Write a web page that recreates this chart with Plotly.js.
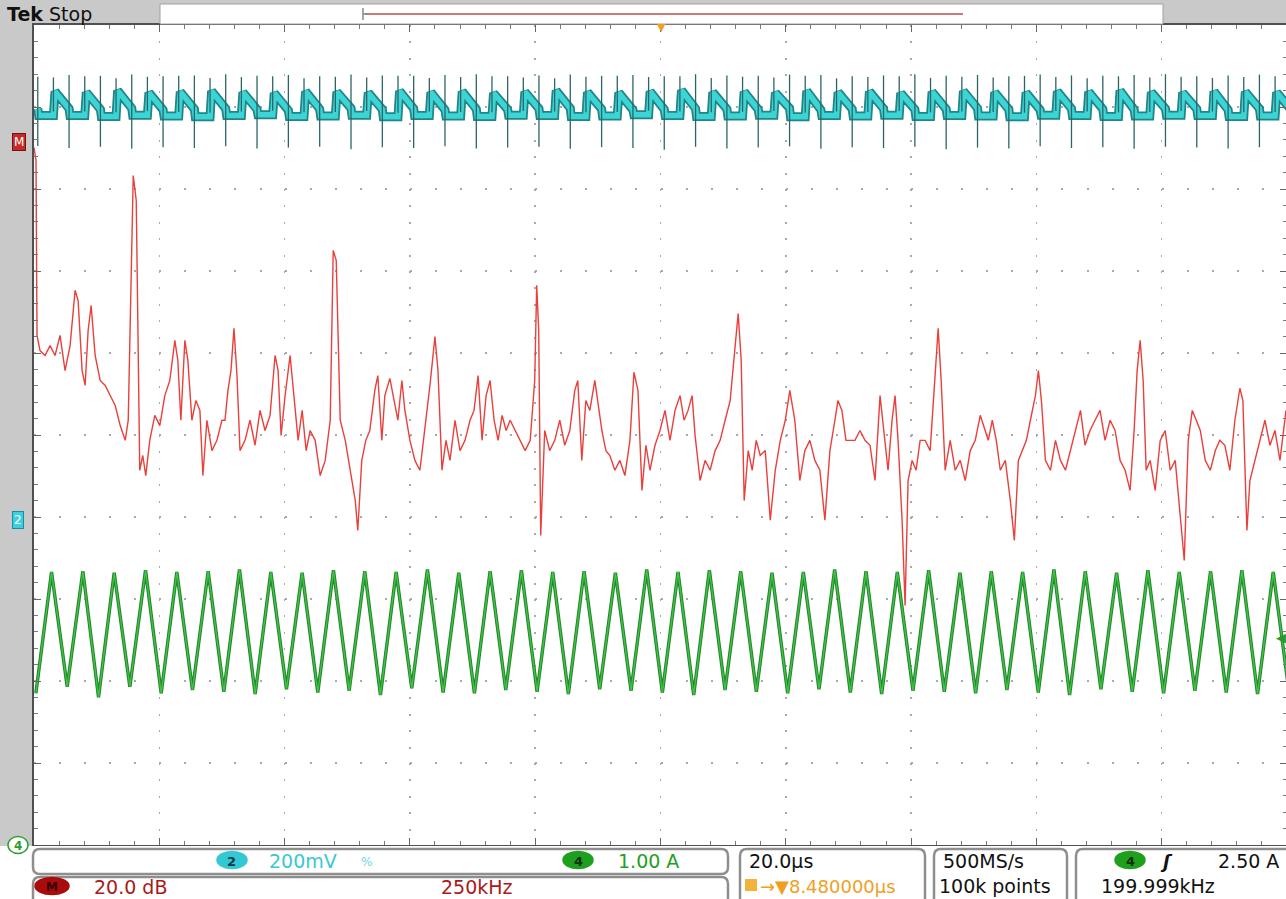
<!DOCTYPE html>
<html><head><meta charset="utf-8">
<script src="https://cdn.plot.ly/plotly-3.0.1.min.js"></script>
<style>html,body{margin:0;padding:0;overflow:hidden;background:#fff}#plot{width:1290px;height:899px}</style>
</head><body><div id="plot"></div>
<script>
// ---------- Channel 2 (voltage ripple, V) : per-switching-period readings ----------
const cyanRiseT = [-96.9,-91.9,-86.9,-81.9,-76.9,-71.9,-66.9,-61.9,-56.9,-51.9,-46.9,-41.9,-36.9,-31.9,-26.9,-21.9,-16.9,-11.9,-6.9,-1.9,3.1,8.1,13.1,18.1,23.1,28.1,33.1,38.1,43.1,48.1,53.1,58.1,63.1,68.1,73.1,78.1,83.1,88.1,93.1,98.1];
const cyanDropT = [-99.4,-94.4,-89.4,-84.4,-79.4,-74.4,-69.4,-64.4,-59.4,-54.4,-49.4,-44.4,-39.4,-34.4,-29.4,-24.4,-19.4,-14.4,-9.4,-4.4,0.6,5.6,10.6,15.6,20.6,25.6,30.6,35.6,40.6,45.6,50.6,55.6,60.6,65.6,70.6,75.6,80.6,85.6,90.6,95.6,100.6];
const cyanPeakV = [1.038,1.036,1.040,1.035,1.037,1.039,1.036,1.034,1.038,1.037,1.035,1.039,1.036,1.038,1.034,1.037,1.040,1.036,1.035,1.038,1.041,1.036,1.037,1.035,1.039,1.036,1.038,1.034,1.037,1.039,1.036,1.035,1.038,1.037,1.040,1.036,1.035,1.038,1.037,1.036];
const cyanMidV = [0.996,0.996,0.994,0.997,0.993,0.995,0.996,0.994,0.992,0.995,0.997,0.994,0.996,0.993,0.995,0.994,0.996,0.997,0.995,0.993,0.994,0.996,0.995,0.994,0.997,0.993,0.995,0.996,0.994,0.995,0.997,0.994,0.993,0.996,0.995,0.994,0.996,0.995,0.993,0.996,0.994];
const cyanLowV = [0.979,0.979,0.977,0.980,0.978,0.976,0.979,0.981,0.977,0.978,0.980,0.976,0.979,0.978,0.977,0.980,0.979,0.977,0.978,0.981,0.979,0.977,0.978,0.980,0.976,0.979,0.978,0.980,0.977,0.979,0.978,0.976,0.980,0.979,0.977,0.978,0.980,0.979,0.977,0.978,0.979];
const riseSpikeHi = [1.072,1.075,1.070,1.074,1.076,1.071,1.073,1.075,1.070,1.074,1.072,1.076,1.071,1.073,1.075,1.072,1.070,1.074,1.076,1.073,1.075,1.071,1.074,1.072,1.076,1.070,1.073,1.075,1.071,1.074,1.072,1.076,1.073,1.070,1.075,1.072,1.074,1.071,1.073,1.075];
const dropSpikeHi = [1.074,1.078,1.076,1.079,1.075,1.077,1.080,1.076,1.078,1.075,1.079,1.077,1.076,1.078,1.080,1.075,1.077,1.079,1.076,1.078,1.075,1.080,1.077,1.076,1.079,1.078,1.075,1.077,1.080,1.076,1.078,1.075,1.079,1.077,1.076,1.078,1.080,1.075,1.077,1.079,1.076];
const dropSpikeLo = [0.905,0.900,0.903,0.898,0.902,0.900,0.904,0.899,0.901,0.903,0.897,0.902,0.900,0.904,0.899,0.901,0.903,0.898,0.902,0.900,0.896,0.903,0.899,0.901,0.904,0.898,0.902,0.900,0.903,0.897,0.901,0.899,0.904,0.900,0.902,0.898,0.903,0.901,0.899,0.902,0.900];

// ---------- Channel 4 (inductor current, A) : triangle vertices ----------
const greenTroughT = [-99.7,-94.7,-89.7,-84.7,-79.7,-74.7,-69.7,-64.7,-59.7,-54.7,-49.7,-44.7,-39.7,-34.7,-29.7,-24.7,-19.7,-14.7,-9.7,-4.7,0.3,5.3,10.3,15.3,20.3,25.3,30.3,35.3,40.3,45.3,50.3,55.3,60.3,65.3,70.3,75.3,80.3,85.3,90.3,95.3,100.3];
const greenTroughI = [1.85,1.93,1.80,1.93,1.85,1.89,1.87,1.84,1.90,1.86,1.88,1.83,1.91,1.86,1.85,1.89,1.87,1.84,1.90,1.88,1.86,1.83,1.89,1.87,1.85,1.90,1.86,1.84,1.88,1.87,1.85,1.89,1.86,1.83,1.90,1.87,1.85,1.88,1.86,1.84,1.88];
const greenPeakT = [-97.2,-92.2,-87.2,-82.2,-77.2,-72.2,-67.2,-62.2,-57.2,-52.2,-47.2,-42.2,-37.2,-32.2,-27.2,-22.2,-17.2,-12.2,-7.2,-2.2,2.8,7.8,12.8,17.8,22.8,27.8,32.8,37.8,42.8,47.8,52.8,57.8,62.8,67.8,72.8,77.8,82.8,87.8,92.8,97.8];
const greenPeakI = [3.33,3.34,3.32,3.35,3.33,3.34,3.36,3.33,3.32,3.35,3.34,3.33,3.36,3.32,3.34,3.35,3.33,3.34,3.32,3.36,3.33,3.35,3.34,3.32,3.33,3.36,3.34,3.33,3.35,3.32,3.34,3.33,3.36,3.34,3.32,3.35,3.33,3.34,3.35,3.33];

// ---------- Math (FFT of ch4, dB vs kHz) ----------
const mathFreqKHz = [0,4,6,12,22,32,42,52,62,72,
 82,88,96,102,108,114,122,132,142,152,
 162,172,182,188,194,198,204,208,211,217,
 223,231,241,251,261,271,281,287,293,301,
 307,315,323,331,337,345,355,365,375,381,
 387,393,399,405,411,421,431,441,451,461,
 471,481,487,493,501,511,519,527,535,543,
 551,561,571,581,591,597,603,611,621,631,
 641,646,654,662,670,680,686,694,700,710,
 720,726,734,740,750,760,770,780,790,800,
 806,814,822,830,840,850,860,870,878,886,
 894,902,910,918,926,934,942,950,960,970,
 980,990,999,1003,1007,1011,1019,1029,1039,1049,
 1059,1069,1079,1085,1093,1101,1109,1119,1125,1133,
 1141,1149,1159,1169,1179,1189,1197,1205,1213,1221,
 1229,1239,1249,1259,1269,1279,1289,1297,1305,1313,
 1319,1329,1339,1349,1359,1369,1379,1389,1399,1405,
 1411,1417,1425,1433,1441,1449,1459,1469,1479,1489,
 1499,1508,1518,1528,1538,1548,1558,1568,1578,1588,
 1598,1604,1612,1620,1628,1638,1648,1658,1668,1678,
 1688,1696,1704,1712,1718,1724,1732,1738,1744,1752,
 1760,1768,1778,1788,1798,1804,1810,1818,1828,1838,
 1848,1858,1868,1878,1888,1898,1904,1912,1920,1928,
 1938,1948,1956,1964,1972,1980,1988,1998,2004,2010,
 2018,2028,2038,2048,2058,2068,2078,2088,2097,2107,
 2117,2127,2137,2147,2157,2167,2177,2187,2195,2201,
 2207,2213,2219,2227,2237,2247,2257,2267,2277,2287,
 2295,2303,2311,2319,2327,2337,2347,2357,2366,2376,
 2386,2396,2406,2412,2420,2426,2436,2446,2456,2466,
 2476,2486,2498];
const mathDB = [-1.5,-4.6,-47.3,-51.0,-52.2,-49.8,-52.2,-47.3,-55.9,-49.8,
 -36.3,-38.8,-55.9,-59.5,-46.1,-40.0,-52.2,-58.3,-59.5,-62.0,
 -64.4,-69.3,-72.9,-68.0,-33.9,-8.3,-14.4,-46.1,-80.2,-76.6,
 -81.5,-72.9,-66.8,-69.3,-62.0,-58.3,-48.5,-53.4,-68.0,-48.5,
 -53.4,-68.0,-63.2,-65.6,-81.5,-68.0,-75.4,-72.9,-68.0,-68.0,
 -60.7,-55.9,-45.6,-57.1,-75.4,-72.9,-68.0,-74.1,-65.6,-70.5,
 -66.8,-52.2,-55.9,-71.7,-62.0,-52.2,-63.2,-72.9,-65.6,-75.4,
 -70.5,-72.9,-81.5,-77.8,-68.0,-26.6,-29.0,-68.0,-72.9,-80.2,
 -87.6,-94.9,-77.8,-72.9,-70.5,-60.7,-57.1,-72.9,-62.0,-57.8,
 -64.4,-68.0,-58.3,-65.6,-72.9,-77.8,-80.2,-70.5,-59.5,-47.6,
 -55.9,-80.2,-72.9,-77.8,-68.0,-75.4,-72.9,-68.0,-65.6,-57.1,
 -72.9,-62.0,-58.3,-68.0,-72.9,-66.8,-70.5,-68.0,-70.5,-72.9,
 -75.4,-72.9,-58.3,-35.1,-46.1,-96.1,-70.5,-75.4,-72.9,-68.0,
 -74.1,-70.5,-60.7,-58.3,-77.8,-63.2,-65.6,-58.3,-63.2,-70.5,
 -75.4,-76.6,-80.2,-77.8,-81.5,-72.9,-56.3,-60.7,-85.1,-74.1,
 -80.2,-74.1,-70.5,-65.6,-72.9,-65.6,-62.0,-68.0,-65.6,-62.0,
 -71.7,-82.7,-77.8,-80.2,-75.4,-72.9,-68.0,-63.2,-49.8,-42.0,
 -53.4,-87.6,-75.4,-80.2,-72.9,-76.6,-75.4,-92.4,-80.2,-72.9,
 -68.0,-60.7,-68.0,-82.7,-75.4,-72.9,-77.8,-80.2,-92.4,-75.4,
 -68.0,-63.2,-65.6,-72.9,-72.9,-72.9,-70.5,-72.9,-74.1,-82.7,
 -62.0,-70.5,-80.2,-68.0,-62.0,-72.9,-92.4,-113.2,-82.7,-77.8,
 -80.2,-72.9,-72.9,-75.4,-58.3,-45.6,-58.3,-80.2,-72.9,-80.2,
 -77.8,-82.7,-75.4,-72.9,-66.8,-70.5,-72.9,-68.0,-72.9,-80.2,
 -77.8,-87.6,-97.3,-77.8,-75.4,-72.9,-68.0,-62.0,-55.9,-63.2,
 -77.8,-80.2,-72.9,-77.8,-80.2,-75.4,-70.5,-65.6,-74.1,-70.5,
 -68.0,-65.6,-72.9,-68.0,-70.5,-77.8,-80.2,-85.1,-70.5,-55.9,
 -48.5,-58.3,-80.2,-77.8,-85.1,-72.9,-70.5,-80.2,-77.8,-92.4,
 -102.2,-72.9,-65.6,-68.0,-70.5,-77.8,-80.2,-75.4,-72.9,-74.1,
 -80.2,-68.0,-60.2,-63.2,-94.9,-82.7,-77.8,-72.9,-68.0,-74.1,
 -70.5,-77.8,-65.6];

// ---------- build traces from data ----------
const cyT = [], cyV = [];
for (let j = 0; j < cyanDropT.length; j++) {
  cyT.push(cyanDropT[j]); cyV.push(cyanMidV[j]);
  cyT.push(cyanDropT[j] + 0.15); cyV.push(cyanLowV[j]);
  if (j < cyanRiseT.length) {
    cyT.push(cyanRiseT[j]); cyV.push(cyanLowV[j]);
    cyT.push(cyanRiseT[j] + 0.25); cyV.push(cyanPeakV[j]);
  }
}
const spT = [], spV = [];
cyanRiseT.forEach((t, k) => { spT.push(t, t, null); spV.push(cyanLowV[k] + 0.01, riseSpikeHi[k], null); });
cyanDropT.forEach((t, k) => { spT.push(t, t, null); spV.push(dropSpikeHi[k], dropSpikeLo[k], null); });

const gT = [], gI = [];
for (let k = 0; k < greenTroughT.length; k++) {
  gT.push(greenTroughT[k]); gI.push(greenTroughI[k]);
  if (k < greenPeakT.length) { gT.push(greenPeakT[k]); gI.push(greenPeakI[k]); }
}

const traces = [
  {x: cyT, y: cyV, xaxis: 'x', yaxis: 'y', mode: 'lines', line: {color: '#1f8587', width: 9}, hoverinfo: 'skip'},
  {x: cyT, y: cyV, xaxis: 'x', yaxis: 'y', mode: 'lines', line: {color: '#3cd4d4', width: 5.5}, hoverinfo: 'skip'},
  {x: spT, y: spV, xaxis: 'x', yaxis: 'y', mode: 'lines', line: {color: '#2d6567', width: 1.3}, connectgaps: false, hoverinfo: 'skip'},
  {x: gT, y: gI, xaxis: 'x', yaxis: 'y2', mode: 'lines', line: {color: '#22892a', width: 3.4}, hoverinfo: 'skip'},
  {x: gT, y: gI, xaxis: 'x', yaxis: 'y2', mode: 'lines', line: {color: '#43c249', width: 1.3}, hoverinfo: 'skip'},
  {x: mathFreqKHz, y: mathDB, xaxis: 'x2', yaxis: 'y3', mode: 'lines', line: {color: '#e8403c', width: 1.4}, hoverinfo: 'skip'}
];

// ---------- layout helpers (pixel -> paper) ----------
const L = 34, T = 25, W = 1253, H = 820;
const px = x => (x - L) / W, py = y => (T + H - y) / H;
function rbox(x0, y0, x1, y1, r) {
  const X = px, Y = py;
  return `M${X(x0 + r)},${Y(y0)} L${X(x1 - r)},${Y(y0)} Q${X(x1)},${Y(y0)} ${X(x1)},${Y(y0 + r)} L${X(x1)},${Y(y1 - r)} Q${X(x1)},${Y(y1)} ${X(x1 - r)},${Y(y1)} L${X(x0 + r)},${Y(y1)} Q${X(x0)},${Y(y1)} ${X(x0)},${Y(y1 - r)} L${X(x0)},${Y(y0 + r)} Q${X(x0)},${Y(y0)} ${X(x0 + r)},${Y(y0)} Z`;
}
const FONT = 'DejaVu Sans';
const shapes = [];
const ann = [];
function rect(x0, y0, x1, y1, fill, lc, lw) {
  shapes.push({type: 'rect', xref: 'paper', yref: 'paper', x0: px(x0), x1: px(x1), y0: py(y1), y1: py(y0), fillcolor: fill, line: {color: lc || fill, width: lw || 0}, layer: 'above'});
}
function line(x0, y0, x1, y1, c, w) {
  shapes.push({type: 'line', xref: 'paper', yref: 'paper', x0: px(x0), x1: px(x1), y0: py(y0), y1: py(y1), line: {color: c, width: w}, layer: 'above'});
}
function box(x0, y0, x1, y1, r) {
  shapes.push({type: 'path', xref: 'paper', yref: 'paper', path: rbox(x0, y0, x1, y1, r), fillcolor: '#ffffff', line: {color: '#8e8e8e', width: 2.5}, layer: 'above'});
}
function ell(cx, cy, w, h, fill, lc) {
  shapes.push({type: 'circle', xref: 'paper', yref: 'paper', x0: px(cx - w / 2), x1: px(cx + w / 2), y0: py(cy + h / 2), y1: py(cy - h / 2), fillcolor: fill, line: {color: lc || fill, width: 1.5}, layer: 'above'});
}
function txt(s, x, y, color, size, anchor, extra) {
  ann.push(Object.assign({text: s, xref: 'paper', yref: 'paper', x: px(x), y: py(y), xanchor: anchor || 'left', yanchor: 'middle', showarrow: false, font: {family: FONT, size: size, color: color}}, extra || {}));
}

// top status bar
rect(160, 4, 1163, 24, '#ffffff', '#a0a0a0', 1);
line(365, 14, 963, 14, '#c04848', 1.5);
line(363, 8, 363, 20, '#8a8a8a', 1.5);
line(363, 14, 368, 14, '#8a8a8a', 1.5);
txt('<b>Tek</b> Stop', 5, 14, '#111111', 19);
txt('▼', 661, 27, '#f0a020', 11, 'center');

// bottom readout panel
rect(0, 846, 1290, 899, '#ffffff');
box(33, 849, 728, 874, 7);
box(33, 877, 728, 905, 7);
box(740, 849, 925, 905, 7);
box(934, 849, 1067, 905, 7);
box(1076, 849, 1300, 905, 7);

ell(232, 860, 30, 17, '#32c8d6');
txt('<b>2</b>', 232, 861, '#0b3a40', 13, 'center');
txt('200mV', 267, 861, '#3cc6d4', 19);
txt('%', 367, 862, '#6fd4de', 12, 'center');
ell(578, 860, 30, 17, '#1ea01e');
txt('<b>4</b>', 578, 861, '#063006', 13, 'center');
txt('1.00 A', 616, 861, '#22a022', 19);
ell(52, 886, 34, 17, '#a80c0c');
txt('<b>M</b>', 52, 887, '#3a0000', 12, 'center');
txt('20.0 dB', 92, 887, '#a81a1a', 19);
txt('250kHz', 439, 887, '#a81a1a', 19);
txt('20.0µs', 747, 861, '#111111', 19);
rect(745, 879, 757, 891, '#f3b23a');
txt('→▼8.480000µs', 758, 886, '#f0a020', 18);
txt('500MS/s', 941, 861, '#111111', 19);
txt('100k points', 937, 886, '#111111', 19);
ell(1130, 860, 30, 17, '#1ea01e');
txt('<b>4</b>', 1130, 861, '#063006', 13, 'center');
txt('<i><b>ʃ</b></i>', 1166, 861, '#111111', 18, 'center');
txt('2.50 A', 1216, 861, '#111111', 19);
txt('199.999kHz', 1099, 886, '#111111', 19);

// left channel markers
txt('M', 19, 142, '#ffffff', 12, 'center', {bgcolor: '#c42a2a', bordercolor: '#7a1010', borderwidth: 1, borderpad: 1});
txt('2', 18, 520, '#ffffff', 12, 'center', {bgcolor: '#3ccfe0', bordercolor: '#1c8ea0', borderwidth: 1, borderpad: 1});
ell(18, 845, 20, 17, '#ffffff', '#2aa02a');
txt('<b>4</b>', 18, 846, '#2aa02a', 12, 'center');
txt('◀', 1281, 637, '#2a9a2a', 13, 'center');

const gridCol = '#a9a9a9';
const layout = {
  width: 1290, height: 899,
  margin: {l: L, r: 1290 - L - W, t: T, b: 899 - T - H, pad: 0},
  paper_bgcolor: '#c9c9c9', plot_bgcolor: '#ffffff',
  showlegend: false,
  xaxis: {range: [-100, 100], dtick: 20, tick0: 0, showgrid: true, gridcolor: gridCol, gridwidth: 1.6, griddash: '2px,14.4px',
    ticks: 'inside', ticklen: 7, tickcolor: '#666', tickwidth: 1, showticklabels: false, zeroline: false,
    showline: true, linecolor: '#505050', linewidth: 2, mirror: 'ticks',
    minor: {ticks: 'inside', ticklen: 4, dtick: 4, tickcolor: '#7a7a7a', tickwidth: 1, showgrid: false}, fixedrange: true},
  yaxis: {range: [-0.8, 1.2], dtick: 0.2, tick0: 0, showgrid: true, gridcolor: gridCol, gridwidth: 1.6, griddash: '2px,23.06px',
    ticks: 'inside', ticklen: 7, tickcolor: '#666', tickwidth: 1, showticklabels: false, zeroline: false,
    showline: true, linecolor: '#505050', linewidth: 2, mirror: 'ticks',
    minor: {ticks: 'inside', ticklen: 4, dtick: 0.04, tickcolor: '#7a7a7a', tickwidth: 1, showgrid: false}, fixedrange: true},
  xaxis2: {overlaying: 'x', range: [0, 2500], visible: false, fixedrange: true},
  yaxis2: {overlaying: 'y', range: [0, 10], visible: false, fixedrange: true},
  yaxis3: {overlaying: 'y', range: [-171.6, 28.4], visible: false, fixedrange: true},
  shapes: shapes, annotations: ann
};
Plotly.newPlot('plot', traces, layout, {staticPlot: true, displayModeBar: false});
</script></body></html>
